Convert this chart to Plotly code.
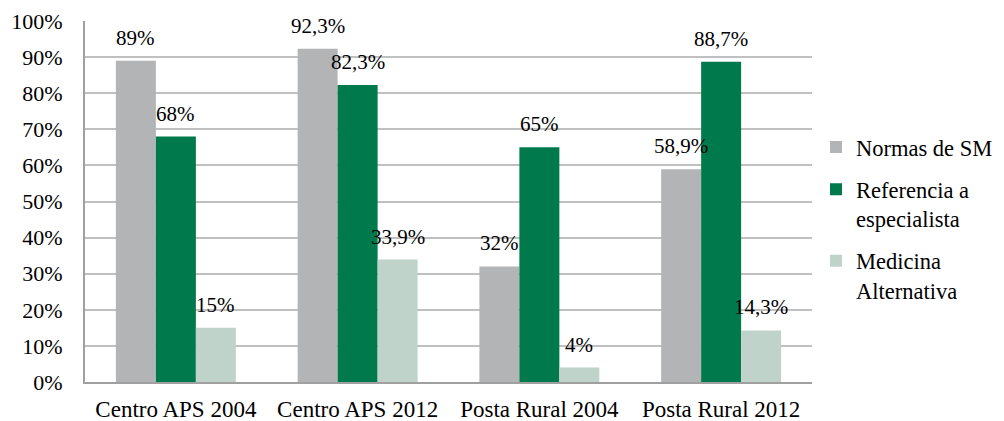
import plotly.graph_objects as go

categories = ["Centro APS 2004", "Centro APS 2012", "Posta Rural 2004", "Posta Rural 2012"]
series_names = ["Normas de SM", "Referencia a<br>especialista", "Medicina<br>Alternativa"]
normas = [0.89, 0.923, 0.32, 0.589]
referencia = [0.68, 0.823, 0.65, 0.887]
medicina = [0.15, 0.339, 0.04, 0.143]
y_ticks = [0, 0.1, 0.2, 0.3, 0.4, 0.5, 0.6, 0.7, 0.8, 0.9, 1.0]

colors = ["#b3b4b6", "#007a4c", "#c0d3ca"]
FONT = "Times New Roman"


def fmt(v):
    s = f"{v * 100:.1f}"
    if s.endswith(".0"):
        s = s[:-2]
    return s.replace(".", ",") + "%"


fig = go.Figure()
all_series = [normas, referencia, medicina]
for i, (name, vals) in enumerate(zip(series_names, all_series)):
    fig.add_trace(go.Bar(
        x=categories, y=vals, name=name,
        marker=dict(color=colors[i], line=dict(width=0)),
        legendgroup=f"g{i}",
    ))

shifts = [-40, 0, 40]
for i, vals in enumerate(all_series):
    for c, v in zip(categories, vals):
        fig.add_annotation(
            x=c, y=v, text=fmt(v), showarrow=False,
            xref="x", yref="y", xshift=shifts[i], yshift=23,
            yanchor="middle", xanchor="center",
            font=dict(family=FONT, size=21, color="#000000"),
        )

fig.update_layout(
    width=1004, height=421,
    margin=dict(l=85, r=192, t=21, b=39, autoexpand=False),
    paper_bgcolor="white", plot_bgcolor="white",
    barmode="group", bargap=0.34, bargroupgap=0,
    font=dict(family=FONT, size=21, color="#000000"),
    legend=dict(
        x=1.0055, y=0.452, xanchor="left", yanchor="middle",
        font=dict(family=FONT, size=22.5, color="#000000"),
        valign="top", traceorder="grouped", tracegroupgap=10,
        itemwidth=30, bgcolor="rgba(0,0,0,0)",
    ),
    showlegend=True,
)
fig.update_xaxes(
    showline=True, linecolor="#a0a0a0", linewidth=2,
    ticks="", ticklabelstandoff=5, showgrid=False, automargin=False,
    tickfont=dict(family=FONT, size=23),
)
fig.update_yaxes(
    range=[0, 1.0], tickvals=y_ticks, tickformat=".0%",
    showline=True, linecolor="#a0a0a0", linewidth=2,
    showgrid=True, gridcolor="#c0c0c0", gridwidth=1.5,
    ticks="", ticklabelstandoff=16, zeroline=False, automargin=False,
    tickfont=dict(family=FONT, size=22),
)

fig.write_html(
    "out.html",
    config={"displayModeBar": False},
    post_script="document.body.style.margin='0';document.body.style.overflow='hidden';",
)
